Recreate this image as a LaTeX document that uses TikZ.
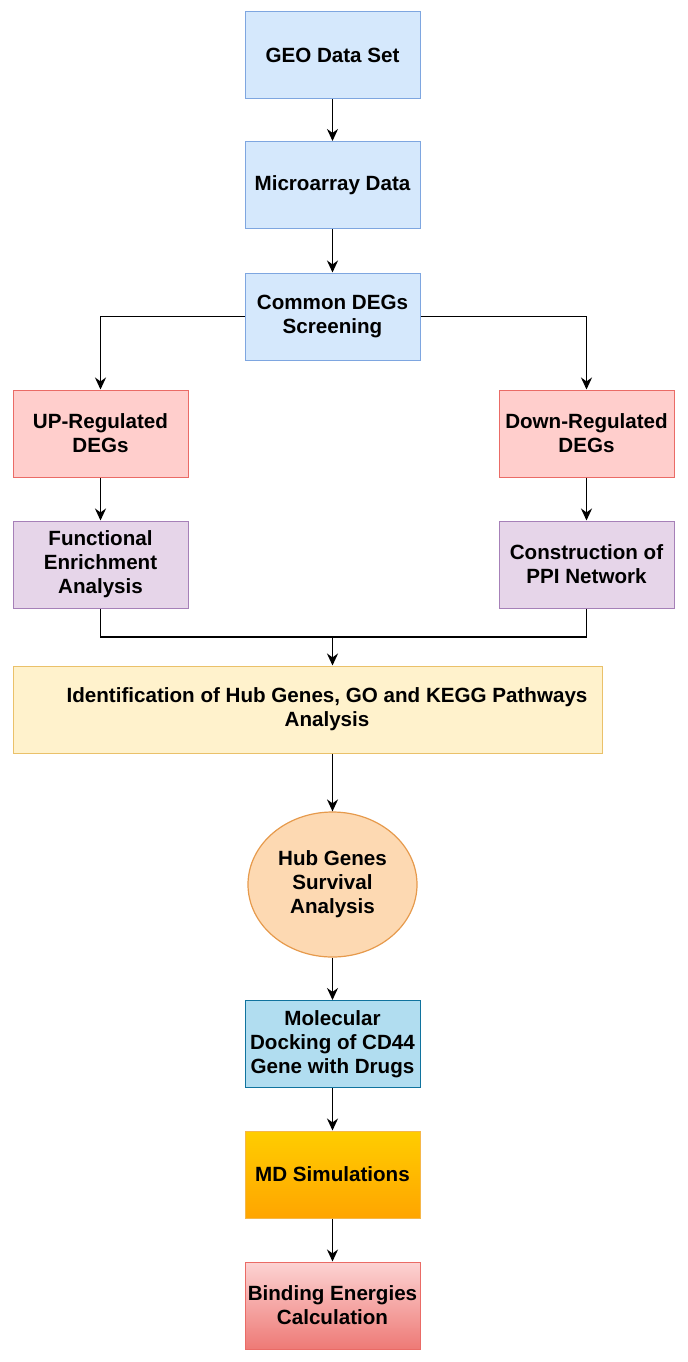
\documentclass[tikz,border=0pt]{standalone}
\usepackage{fontspec}
\setmainfont{Liberation Sans}
\usepackage{xcolor}
\usetikzlibrary{arrows.meta,positioning,shapes.geometric}
\definecolor{bluefill}{HTML}{D5E8FC}
\definecolor{blueline}{HTML}{7EA6E0}
\definecolor{redfill}{HTML}{FFCECC}
\definecolor{redline}{HTML}{EA6B66}
\definecolor{purpfill}{HTML}{E6D5E9}
\definecolor{purpline}{HTML}{A680B8}
\definecolor{yelfill}{HTML}{FFF2CC}
\definecolor{yelline}{HTML}{EAC16A}
\definecolor{peachfill}{HTML}{FDD9B2}
\definecolor{peachline}{HTML}{E69A4C}
\definecolor{cyanfill}{HTML}{B1DDF0}
\definecolor{cyanline}{HTML}{10739E}
\definecolor{mdtop}{HTML}{FFCD00}
\definecolor{mdbot}{HTML}{FFA500}
\definecolor{mdline}{HTML}{F5B74A}
\definecolor{bdtop}{HTML}{FCD3D3}
\definecolor{bdbot}{HTML}{EE7A76}
\tikzset{
  stepnode/.style={rectangle,minimum width=87.5pt,minimum height=43.5pt,inner sep=1pt,align=center,
    font=\fontsize{10.3}{12}\selectfont\bfseries,line width=.5pt},
  blueb/.style={stepnode,draw=blueline,fill=bluefill},
  redb/.style={stepnode,draw=redline,fill=redfill},
  purpb/.style={stepnode,draw=purpline,fill=purpfill},
  yelb/.style={stepnode,draw=yelline,fill=yelfill,minimum width=294.5pt},
  cyanb/.style={stepnode,draw=cyanline,fill=cyanfill},
  mdb/.style={stepnode,draw=mdline,top color=mdtop,bottom color=mdbot},
  bindb/.style={stepnode,draw=redline,top color=bdtop,bottom color=bdbot},
  survc/.style={ellipse,draw=peachline,fill=peachfill,minimum width=84.5pt,minimum height=72.5pt,inner sep=0pt,
    align=center,font=\fontsize{10.3}{12}\selectfont\bfseries,line width=.6pt},
  lab/.style={align=center,font=\fontsize{10.3}{12}\selectfont\bfseries},
  flow/.style={line width=.8pt,black,-{Stealth[length=6pt,width=5.5pt]}},
  plain/.style={line width=.8pt,black}
}
\begin{document}
\begin{tikzpicture}[x=0.5pt,y=-0.5pt]
  \useasboundingbox (0,0) rectangle (687,1362);
  % upper chain
  \node[blueb] (geo) at (332.5,55) {GEO Data Set};
  \node[blueb] (micro) at (332.5,185) {Microarray Data};
  \node[blueb] (common) at (332.5,316.5) {Common DEGs\\Screening};
  % two branches
  \node[redb] (up) at (100.5,433.5) {UP-Regulated\\DEGs};
  \node[redb] (down) at (586.5,433.5) {Down-Regulated\\DEGs};
  \node[purpb] (func) at (100.5,564.5) {Functional\\Enrichment\\Analysis};
  \node[purpb] (ppi) at (586.5,564.5) {Construction of\\PPI Network};
  % merged part
  \coordinate (merge) at (332.5,637);
  \node[yelb] (hub) at (307.5,709.5) {};
  \node[lab] (hubtxt) at (327,709.5) {Identification of Hub Genes, GO and KEGG Pathways\\Analysis};
  \node[survc] (surv) at (332.5,884.5) {Hub Genes\\Survival\\Analysis};
  \node[cyanb] (dock) at (332.5,1044) {Molecular\\Docking of CD44\\Gene with Drugs};
  \node[mdb] (md) at (332.5,1174.5) {MD Simulations};
  \node[bindb] (bind) at (332.5,1305.5) {Binding Energies\\Calculation};

  \draw[flow] (geo) -- (micro);
  \draw[flow] (micro) -- (common);
  \draw[flow] (common.west) -| (up.north);
  \draw[flow] (common.east) -| (down.north);
  \draw[flow] (up) -- (func);
  \draw[flow] (down) -- (ppi);
  \draw[plain] (func.south) |- (merge);
  \draw[plain] (ppi.south) |- (merge);
  \draw[flow] (merge) -- (merge |- hub.north);
  \draw[flow] (surv.north |- hub.south) -- (surv.north);
  \draw[flow] (surv) -- (dock);
  \draw[flow] (dock) -- (md);
  \draw[flow] (md) -- (bind);
\end{tikzpicture}
\end{document}
